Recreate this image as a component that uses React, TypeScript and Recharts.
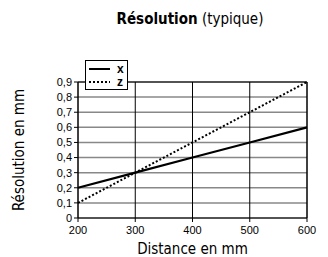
import {
  LineChart,
  Line,
  XAxis,
  YAxis,
  CartesianGrid,
  ReferenceLine,
  Legend,
} from "recharts";

const distances = [200, 300, 400, 500, 600];
const resX = [0.2, 0.3, 0.4, 0.5, 0.6];
const resZ = [0.1, 0.3, 0.5, 0.7, 0.9];
const yTicks = [0, 0.1, 0.2, 0.3, 0.4, 0.5, 0.6, 0.7, 0.8, 0.9];

const FONT = "'Liberation Sans Narrow', 'DejaVu Sans Condensed', 'DejaVu Sans', sans-serif";
const TICK_FONT = "'Liberation Sans', Arial, sans-serif";

const data = distances.map((d, i) => ({ d, x: resX[i], z: resZ[i] }));

function LegendBox() {
  return (
    <div
      style={{
        width: 41,
        height: 28,
        border: "1px solid #000",
        background: "#fff",
        boxSizing: "content-box",
      }}
    >
      <svg width={41} height={28} style={{ display: "block" }}>
        <line x1={3} x2={24} y1={8} y2={8} stroke="#000" strokeWidth={2} />
        <line x1={3} x2={24} y1={21} y2={21} stroke="#000" strokeWidth={2} strokeDasharray="2 2" />
        <text x={31} y={12} fontSize={12} fontWeight="bold" fontFamily={TICK_FONT}>x</text>
        <text x={31} y={25} fontSize={12} fontWeight="bold" fontFamily={TICK_FONT}>z</text>
      </svg>
    </div>
  );
}

export default function App() {
  const fmt = (v: number) => String(v).replace(".", ",");
  return (
    <div style={{ position: "absolute", left: 0, top: 0, width: 328, height: 257, background: "#fff" }}>
      <div
        style={{
          position: "absolute",
          left: 0,
          width: 380,
          top: 10,
          textAlign: "center",
          fontFamily: FONT,
          fontStretch: "condensed",
          fontSize: 15,
          color: "#000",
        }}
      >
        <b>Résolution</b> (typique)
      </div>
      <LineChart
        width={328}
        height={257}
        data={data}
        margin={{ top: 52, right: 21, bottom: 0, left: 0 }}
      >
        <CartesianGrid vertical={false} stroke="#888" strokeWidth={1.5} />
        <CartesianGrid horizontal={false} stroke="#000" strokeWidth={1} />
        <XAxis
          dataKey="d"
          type="number"
          domain={[200, 600]}
          ticks={distances}
          interval={0}
          height={39}
          stroke="#000"
          tickSize={4}
          tick={{ fill: "#000", fontSize: 11, fontFamily: TICK_FONT, dy: 2 }}
          label={({ viewBox }: any) => (
            <text
              x={viewBox.x + viewBox.width / 2}
              y={254}
              textAnchor="middle"
              fontSize={15}
              fontFamily={FONT}
              style={{ fontStretch: "condensed" }}
              fill="#000"
            >
              Distance en mm
            </text>
          )}
        />
        <YAxis
          type="number"
          domain={[0, 0.9]}
          ticks={yTicks}
          interval={0}
          width={78}
          stroke="#000"
          tickSize={4}
          tickFormatter={fmt}
          tick={{ fill: "#000", fontSize: 11, fontFamily: TICK_FONT }}
          label={({ viewBox }: any) => (
            <text
              x={0}
              y={0}
              transform={`translate(24, ${viewBox.y + viewBox.height / 2}) rotate(-90)`}
              textAnchor="middle"
              fontSize={15}
              fontFamily={FONT}
              style={{ fontStretch: "condensed" }}
              fill="#000"
            >
              Résolution en mm
            </text>
          )}
        />
        <ReferenceLine x={600} stroke="#000" strokeWidth={1} />
        <ReferenceLine y={0.9} stroke="#000" strokeWidth={1} />
        <Legend
          verticalAlign="top"
          content={() => <LegendBox />}
          wrapperStyle={{ position: "absolute", left: 85, top: 60, width: 43 }}
        />
        <Line
          dataKey="x"
          type="linear"
          stroke="#000"
          strokeWidth={2.2}
          dot={false}
          isAnimationActive={false}
        />
        <Line
          dataKey="z"
          type="linear"
          stroke="#000"
          strokeWidth={2}
          strokeDasharray="2 2"
          dot={false}
          isAnimationActive={false}
        />
      </LineChart>
    </div>
  );
}
